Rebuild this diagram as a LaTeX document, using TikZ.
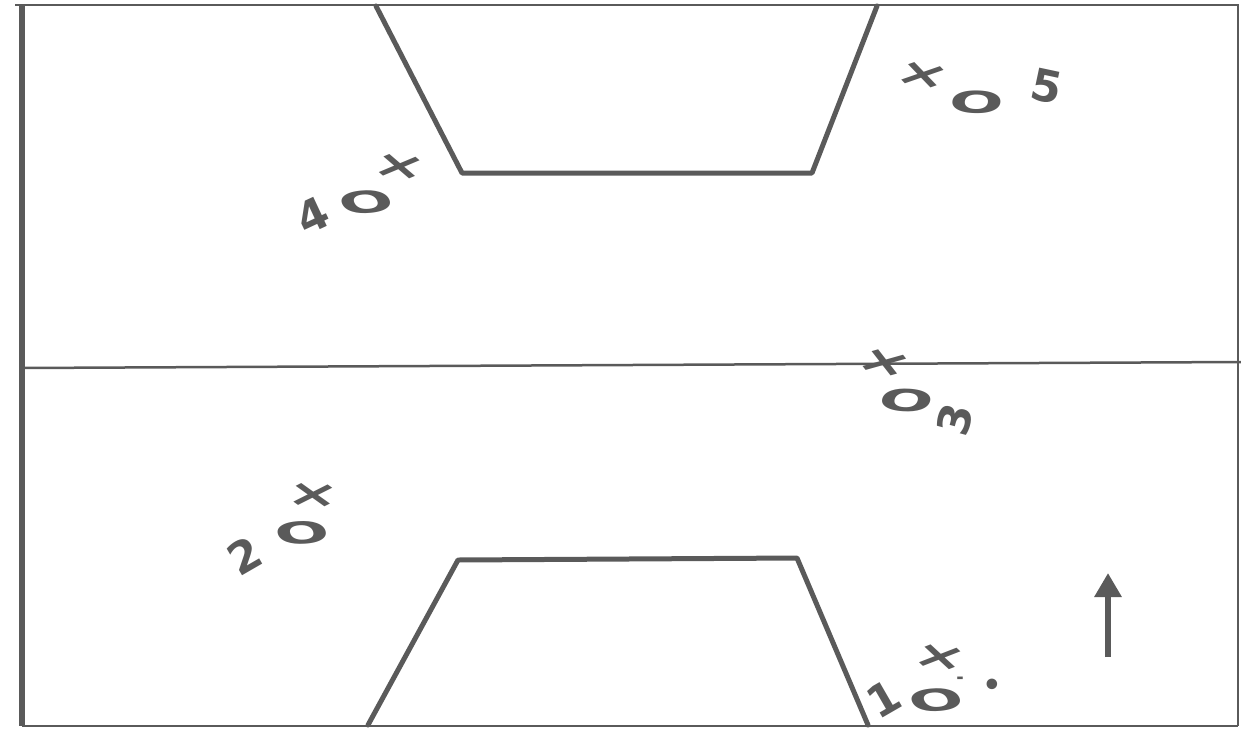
\documentclass[tikz,border=0pt]{standalone}
\usepackage{fontspec}
\setsansfont{DejaVu Sans}
\usetikzlibrary{arrows.meta}
\definecolor{ink}{HTML}{5A5A5A}
\tikzset{
  frame/.style={draw=ink, line width=2.5pt},
  thickline/.style={draw=ink, line width=5pt, line join=round, line cap=round},
  glyph/.style={text=ink, font=\sffamily\bfseries\fontsize{44}{44}\selectfont, inner sep=0pt},
  cross/.style={text=ink, font=\sffamily\bfseries\fontsize{50}{50}\selectfont, inner sep=0pt, xscale=1.25, yscale=0.75},
  oh/.style={text=ink, font=\sffamily\bfseries\fontsize{40}{40}\selectfont, inner sep=0pt, xscale=1.6, yscale=0.75},
}
\begin{document}
\begin{tikzpicture}[x=1pt,y=-1pt]
\useasboundingbox (0,0) rectangle (1241,731);
% frame
\coordinate (tl) at (15,5);
\coordinate (tr) at (1238,5);
\coordinate (br) at (1238,726);
\coordinate (bl) at (22,726);
\draw[frame] (tl) -- (tr) -- (br);
\draw[frame] (bl) -- (br);
\coordinate (lt) at (22,5);
\draw[draw=ink, line width=6pt] (lt) -- (bl);
\coordinate (ml) at (22,368);
\coordinate (mr) at (1241,362);
\draw[frame] (ml) -- (mr);
% top trapezoid
\coordinate (a1) at (376,6);
\coordinate (a2) at (462,173);
\coordinate (a3) at (812,173);
\coordinate (a4) at (877,6);
\draw[thickline] (a1) -- (a2) -- (a3) -- (a4);
% bottom trapezoid
\coordinate (b1) at (368,725);
\coordinate (b2) at (458,560);
\coordinate (b3) at (797,558);
\coordinate (b4) at (868,725);
\draw[thickline] (b1) -- (b2) -- (b3) -- (b4);
% arrow
\coordinate (ar0) at (1108,657);
\coordinate (ar1) at (1108,573);
\draw[draw=ink, line width=6pt, -{Triangle[width=26pt,length=24pt]}] (ar0) -- (ar1);
% labels
\node[glyph, rotate=25] (g4) at (313,215) {4};
\node[oh, rotate=12] (gO4) at (366,202) {O};
\node[cross, rotate=-10] (gx4) at (400,167) {×};

\node[cross, rotate=-15] (gx5) at (923,76) {×};
\node[oh, rotate=-3] (gO5) at (977,102) {O};
\node[glyph, rotate=-12] (g5) at (1047,86) {5};

\node[cross, rotate=-20] (gx3) at (885,363) {×};
\node[oh, rotate=-8] (gO3) at (907,400) {O};
\node[glyph, rotate=75] (g3) at (955,420) {3};

\node[glyph, rotate=30] (g2) at (245,556) {2};
\node[oh, rotate=8] (gO2) at (302,533) {O};
\node[cross, rotate=-5] (gx2) at (313,496) {×};

\node[glyph, rotate=30] (g1) at (884,699) {1};
\node[oh, rotate=12] (gO1) at (936,700) {O};
\node[cross, rotate=-12] (gx1) at (940,658) {×};
\node[text=ink, font=\sffamily\bfseries\fontsize{30}{30}\selectfont, inner sep=0pt] (gd1) at (992,687) {•};
\node[text=ink, font=\sffamily\bfseries\fontsize{18}{18}\selectfont, inner sep=0pt] (gd2) at (960,680) {-};
\end{tikzpicture}
\end{document}
